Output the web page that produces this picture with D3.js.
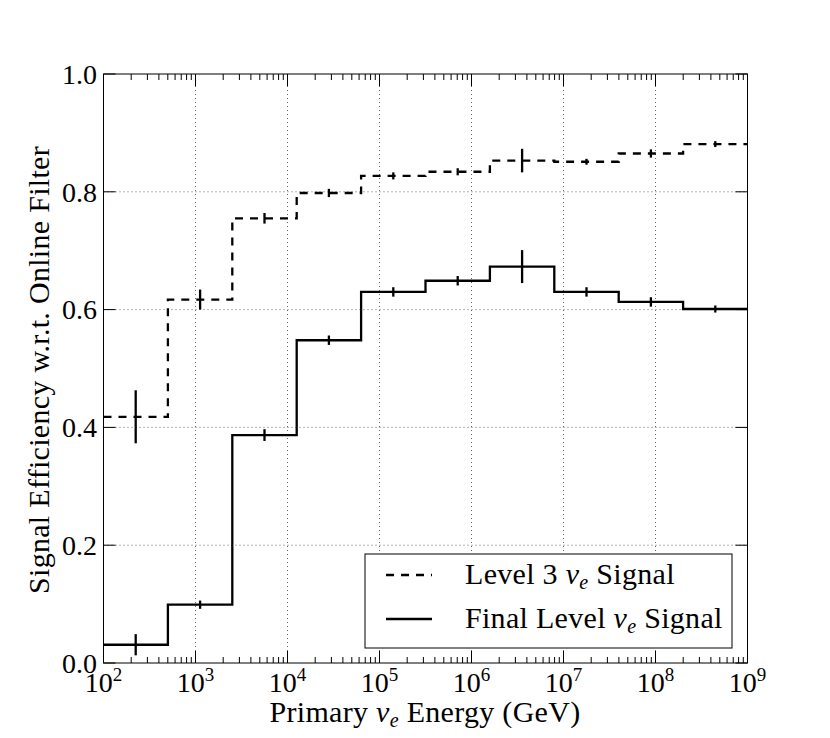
<!DOCTYPE html>
<html><head><meta charset="utf-8">
<script src="https://cdn.jsdelivr.net/npm/d3@7/dist/d3.min.js"></script>
<style>body{margin:0;background:#fff}svg{display:block}text{font-family:"Liberation Serif","DejaVu Serif",serif;fill:#000}</style>
</head><body><svg id="c" width="830" height="738"></svg>
<script>
// bin edges (GeV), 0.7 decade wide bins from 1e2 to 1e9
const binEdges = [1e2, 5.012e2, 2.512e3, 1.2589e4, 6.3096e4, 3.16228e5, 1.584893e6, 7.943282e6, 3.9810717e7, 1.99526231e8, 1e9];
// Level 3 nu_e signal efficiency and uncertainty
const level3Values = [0.418, 0.617, 0.755, 0.798, 0.827, 0.834, 0.853, 0.851, 0.865, 0.881];
const level3Errors = [0.045, 0.017, 0.009, 0.007, 0.006, 0.006, 0.020, 0.005, 0.007, 0.005];
// Final level nu_e signal efficiency and uncertainty
const finalValues = [0.031, 0.099, 0.387, 0.548, 0.630, 0.649, 0.673, 0.630, 0.613, 0.601];
const finalErrors = [0.018, 0.007, 0.010, 0.008, 0.008, 0.008, 0.028, 0.008, 0.008, 0.006];
const xTickExps = [2, 3, 4, 5, 6, 7, 8, 9];
const yTicks = [0.0, 0.2, 0.4, 0.6, 0.8, 1.0];

const svg = d3.select("#c");
const L = 103.5, R = 747.5, T = 74, B = 663;
const x = d3.scaleLog().domain([1e2, 1e9]).range([L, R]);
const y = d3.scaleLinear().domain([0, 1]).range([B, T]);

// grid
const g = svg.append("g");
xTickExps.slice(1, -1).forEach(e => {
  g.append("line").attr("x1", x(Math.pow(10, e))).attr("x2", x(Math.pow(10, e)))
   .attr("y1", T).attr("y2", B).attr("stroke", "#666").attr("stroke-width", 1).attr("stroke-dasharray", "1,3");
});
yTicks.slice(1, -1).forEach(v => {
  g.append("line").attr("x1", L).attr("x2", R).attr("y1", y(v)).attr("y2", y(v))
   .attr("stroke", "#666").attr("stroke-width", 1).attr("stroke-dasharray", "1,3");
});

// ticks
const tk = svg.append("g").attr("stroke", "#000").attr("stroke-width", 1);
for (let e = 2; e <= 9; e++) {
  const px = x(Math.pow(10, e));
  tk.append("line").attr("x1", px).attr("x2", px).attr("y1", B).attr("y2", B - 12);
  tk.append("line").attr("x1", px).attr("x2", px).attr("y1", T).attr("y2", T + 12);
  if (e < 9) for (let m = 2; m <= 9; m++) {
    const mx = x(m * Math.pow(10, e));
    tk.append("line").attr("x1", mx).attr("x2", mx).attr("y1", B).attr("y2", B - 6);
    tk.append("line").attr("x1", mx).attr("x2", mx).attr("y1", T).attr("y2", T + 6);
  }
}
yTicks.forEach(v => {
  tk.append("line").attr("x1", L).attr("x2", L + 12).attr("y1", y(v)).attr("y2", y(v));
  tk.append("line").attr("x1", R).attr("x2", R - 12).attr("y1", y(v)).attr("y2", y(v));
});

// step series
function stepPts(vals) {
  const pts = vals.map((v, i) => [binEdges[i], v]);
  pts.push([binEdges[binEdges.length - 1], vals[vals.length - 1]]);
  return pts;
}
const line = d3.line().x(d => x(d[0])).y(d => y(d[1])).curve(d3.curveStepAfter);
const centers = binEdges.slice(0, -1).map((e, i) => Math.sqrt(e * binEdges[i + 1]));

function drawSeries(vals, errs, dash) {
  svg.append("path").datum(stepPts(vals)).attr("d", line).attr("fill", "none")
    .attr("stroke", "#000").attr("stroke-width", 2.3).attr("stroke-dasharray", dash || null);
  svg.append("g").selectAll("line").data(vals).join("line")
    .attr("x1", (d, i) => x(centers[i])).attr("x2", (d, i) => x(centers[i]))
    .attr("y1", (d, i) => y(d - errs[i])).attr("y2", (d, i) => y(d + errs[i]))
    .attr("stroke", "#000").attr("stroke-width", 2.3);
}
drawSeries(level3Values, level3Errors, "8,7");
drawSeries(finalValues, finalErrors, null);

// frame
svg.append("rect").attr("x", L).attr("y", T).attr("width", R - L).attr("height", B - T)
  .attr("fill", "none").attr("stroke", "#000").attr("stroke-width", 1);

// tick labels
const fs = 28, lfs = 30, ls = 0.3;
yTicks.forEach(v => {
  svg.append("text").attr("x", 97).attr("y", y(v)).attr("dy", "0.35em").attr("text-anchor", "end")
    .attr("font-size", fs).text(v.toFixed(1));
});
xTickExps.forEach(e => {
  const t = svg.append("text").attr("x", x(Math.pow(10, e))).attr("y", 692).attr("text-anchor", "middle").attr("font-size", fs);
  t.append("tspan").text("10");
  t.append("tspan").attr("font-size", 19).attr("dy", -11).text(e);
});

// axis labels
const xl = svg.append("text").attr("x", 425).attr("y", 722).attr("text-anchor", "middle")
  .attr("font-size", lfs).attr("letter-spacing", ls);
xl.append("tspan").text("Primary ");
xl.append("tspan").attr("font-style", "italic").text("ν");
xl.append("tspan").attr("font-style", "italic").attr("font-size", 20).attr("dy", 5).text("e");
xl.append("tspan").attr("dy", -5).text(" Energy (GeV)");

svg.append("text").attr("transform", "translate(49,370) rotate(-90)").attr("text-anchor", "middle")
  .attr("font-size", lfs).attr("letter-spacing", ls).text("Signal Efficiency w.r.t. Online Filter");

// legend
const lg = svg.append("g");
lg.append("rect").attr("x", 365).attr("y", 554).attr("width", 367).attr("height", 94)
  .attr("fill", "#fff").attr("stroke", "#000").attr("stroke-width", 1);
const items = [["Level 3 ", 575, "8,7"], ["Final Level ", 619, null]];
items.forEach(([lab, ly, dash]) => {
  lg.append("line").attr("x1", 386).attr("x2", 432).attr("y1", ly).attr("y2", ly)
    .attr("stroke", "#000").attr("stroke-width", 2.3).attr("stroke-dasharray", dash);
  const t = lg.append("text").attr("x", 465).attr("y", ly + 8.5).attr("font-size", lfs).attr("letter-spacing", ls);
  t.append("tspan").text(lab);
  t.append("tspan").attr("font-style", "italic").text("ν");
  t.append("tspan").attr("font-style", "italic").attr("font-size", 20).attr("dy", 5).text("e");
  t.append("tspan").attr("dy", -5).text(" Signal");
});
</script></body></html>
